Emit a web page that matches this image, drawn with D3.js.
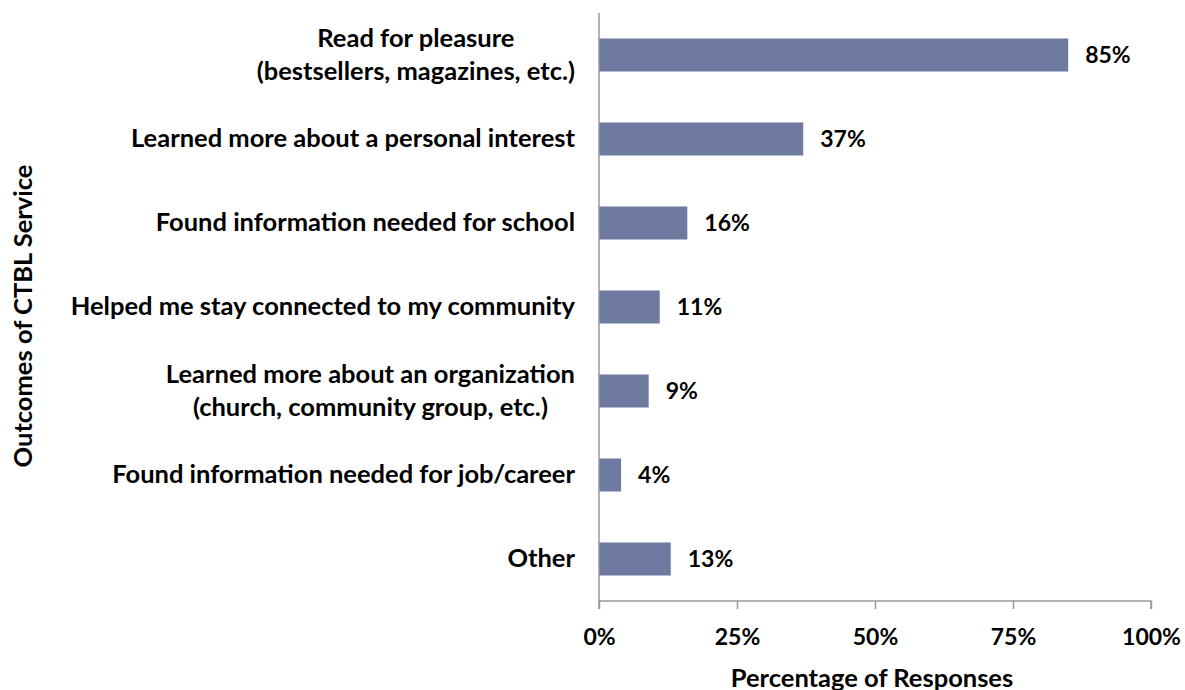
<!DOCTYPE html>
<html>
<head>
<meta charset="utf-8">
<script src="https://cdn.jsdelivr.net/npm/d3@7"></script>
<style>
  body { margin: 0; background: #fff; }
  text { font-family: Lato, "Open Sans", sans-serif; font-weight: bold; fill: #000; }
</style>
</head>
<body>
<div id="chart"></div>
<script>
var categories = [
  ["Read for pleasure", "(bestsellers, magazines, etc.)"],
  ["Learned more about a personal interest"],
  ["Found information needed for school"],
  ["Helped me stay connected to my community"],
  ["Learned more about an organization", "(church, community group, etc.)"],
  ["Found information needed for job/career"],
  ["Other"]
];
var values = [85, 37, 16, 11, 9, 4, 13];
var ticks = [0, 25, 50, 75, 100];

var width = 1185, height = 690;
var plotLeft = 599, plotRight = 1151, plotTop = 13, plotBottom = 601;

var svg = d3.select('#chart').append('svg')
  .attr('width', width).attr('height', height);

var x = d3.scaleLinear().domain([0, 100]).range([plotLeft, plotRight]);
var y = d3.scaleBand().domain(d3.range(categories.length))
  .range([plotTop, plotBottom]).paddingInner(0.607).paddingOuter(0.3035);

// bars
svg.selectAll('rect.bar')
  .data(values)
  .enter()
  .append('rect')
  .attr('class', 'bar')
  .attr('x', x(0))
  .attr('y', function (d, i) { return y(i); })
  .attr('width', function (d) { return x(d) - x(0); })
  .attr('height', y.bandwidth())
  .attr('fill', '#6f7aa1');

// value labels
svg.selectAll('text.val')
  .data(values)
  .enter()
  .append('text')
  .attr('class', 'val')
  .attr('x', function (d) { return x(d) + 17; })
  .attr('y', function (d, i) { return y(i) + y.bandwidth() / 2; })
  .attr('dy', '0.35em')
  .style('font-size', '23px')
  .text(function (d) { return d + '%'; });

// x axis
var xAxis = svg.append('g')
  .attr('transform', 'translate(0,' + plotBottom + ')')
  .call(d3.axisBottom(x).tickValues(ticks).tickSize(8).tickPadding(20)
    .tickFormat(function (d) { return d + '%'; }));
xAxis.selectAll('text').style('font-size', '23px');
xAxis.selectAll('line, path').attr('stroke', '#999').attr('stroke-width', 1.5);
xAxis.select('.domain').attr('d', 'M' + plotLeft + ',8V0H' + plotRight + 'V8');

// y axis line
svg.append('line')
  .attr('x1', plotLeft).attr('x2', plotLeft)
  .attr('y1', plotTop).attr('y2', plotBottom)
  .attr('stroke', '#999').attr('stroke-width', 1.5);

// category labels: block right-aligned, lines centred on each other
var labelRight = 575, lineGap = 33;
categories.forEach(function (lines, i) {
  var g = svg.append('g');
  var cy = y(i) + y.bandwidth() / 2;
  var texts = lines.map(function (t, j) {
    return g.append('text')
      .attr('y', cy + (j - (lines.length - 1) / 2) * lineGap)
      .attr('dy', '0.33em')
      .style('font-size', '25.5px')
      .text(t);
  });
  var maxW = d3.max(texts, function (t) { return t.node().getComputedTextLength(); });
  texts.forEach(function (t) {
    t.attr('x', labelRight - maxW / 2).attr('text-anchor', 'middle');
  });
});

// axis titles
svg.append('text')
  .attr('x', 872).attr('y', 687)
  .attr('text-anchor', 'middle')
  .style('font-size', '25.5px')
  .text('Percentage of Responses');

svg.append('text')
  .attr('transform', 'translate(23,316) rotate(-90)')
  .attr('text-anchor', 'middle')
  .attr('dy', '0.35em')
  .style('font-size', '25.5px')
  .text('Outcomes of CTBL Service');
</script>
</body>
</html>
